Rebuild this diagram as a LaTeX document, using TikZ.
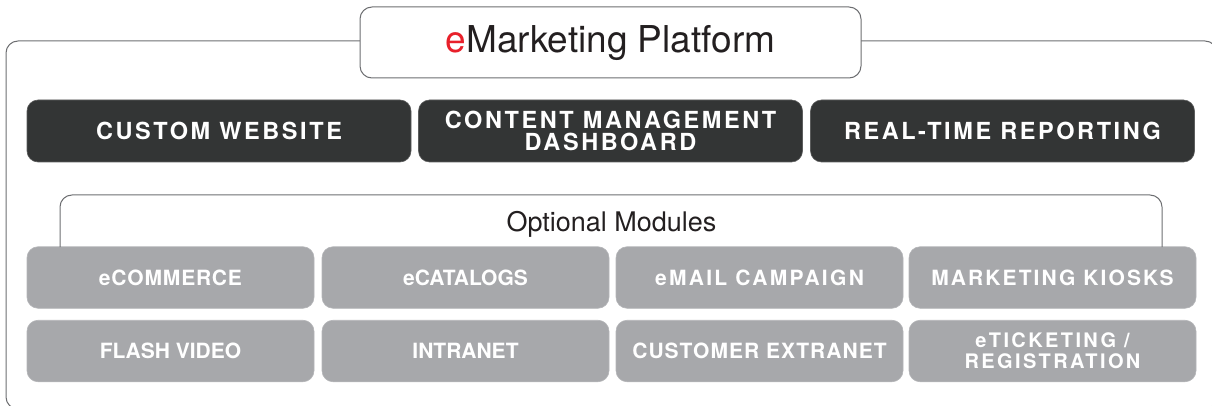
\documentclass[tikz,border=0pt]{standalone}
\usepackage{fontspec}
\setmainfont{TeX Gyre Heros}
\definecolor{darkfill}{HTML}{333535}
\definecolor{modgray}{HTML}{A7A8AB}
\definecolor{linegray}{HTML}{6D6E71}
\definecolor{ered}{HTML}{E8202A}
\definecolor{txt}{HTML}{231F20}
\tikzset{
  frameline/.style={draw=linegray, line width=1pt},
  titlebox/.style={frameline, fill=white, rounded corners=12pt, minimum width=501pt, minimum height=71pt, inner sep=0pt,
    text=txt, font=\fontsize{37}{40}\selectfont},
  darkbox/.style={fill=darkfill, draw=darkfill!80!white, line width=0.6pt, rounded corners=11pt, text=white, align=center,
    minimum width=384pt, minimum height=62pt, inner sep=0pt,
    font=\bfseries\fontsize{23.5}{22}\selectfont\addfontfeature{LetterSpace=11}},
  modbox/.style={fill=modgray, draw=modgray!85!white, line width=0.6pt, rounded corners=11pt, text=white, align=center,
    minimum width=287pt, minimum height=61.5pt, inner sep=0pt,
    font=\bfseries\fontsize{21}{21}\selectfont},
  trk/.style={font=\bfseries\fontsize{21}{21}\selectfont\addfontfeature{LetterSpace=#1}},
}
\begin{document}
\begin{tikzpicture}[x=1pt, y=-1pt]
\useasboundingbox (0,0) rectangle (1212,406);
\clip (0,0) rectangle (1212,406);
% outer frame
\draw[frameline, rounded corners=12pt] (6,41) rectangle (1217,409);
% title
\node[titlebox] (title) at (610.5,42.5) {{\color{ered}e}Marketing Platform};
% dark boxes
\node[darkbox] (web) at (219,131) {CUSTOM WEBSITE};
\node[darkbox] (cms) at (610.5,131) {CONTENT MANAGEMENT\\DASHBOARD};
\node[darkbox] (rep) at (1002.5,131) {REAL-TIME REPORTING};
% optional modules label
\node[text=txt, font=\fontsize{27}{30}\selectfont, inner sep=0pt] (opt) at (611.5,224) {Optional Modules};
% module boxes
\node[modbox, trk=4] (ecom) at (170.5,277.5) {eCOMMERCE};
\node[modbox, trk=0] (ecat) at (465.5,277.5) {eCATALOGS};
\node[modbox, trk=11] (email) at (759.5,277.5) {eMAIL CAMPAIGN};
\node[modbox, trk=10] (kiosk) at (1052.5,277.5) {MARKETING KIOSKS};
\node[modbox, trk=0] (flash) at (170.5,351) {FLASH VIDEO};
\node[modbox, trk=0] (intra) at (465.5,351) {INTRANET};
\node[modbox, trk=5] (extra) at (759.5,351) {CUSTOMER EXTRANET};
\node[modbox, font=\bfseries\fontsize{20}{21}\selectfont\addfontfeature{LetterSpace=12}] (ticket) at (1052.5,351) {eTICKETING /\\REGISTRATION};
% bracket
\coordinate (bl) at (60,247);
\coordinate (br) at (1162,247);
\coordinate (bt) at (611,195);
\draw[frameline, rounded corners=12pt] (bl) |- (bt) -| (br);
\end{tikzpicture}
\end{document}
